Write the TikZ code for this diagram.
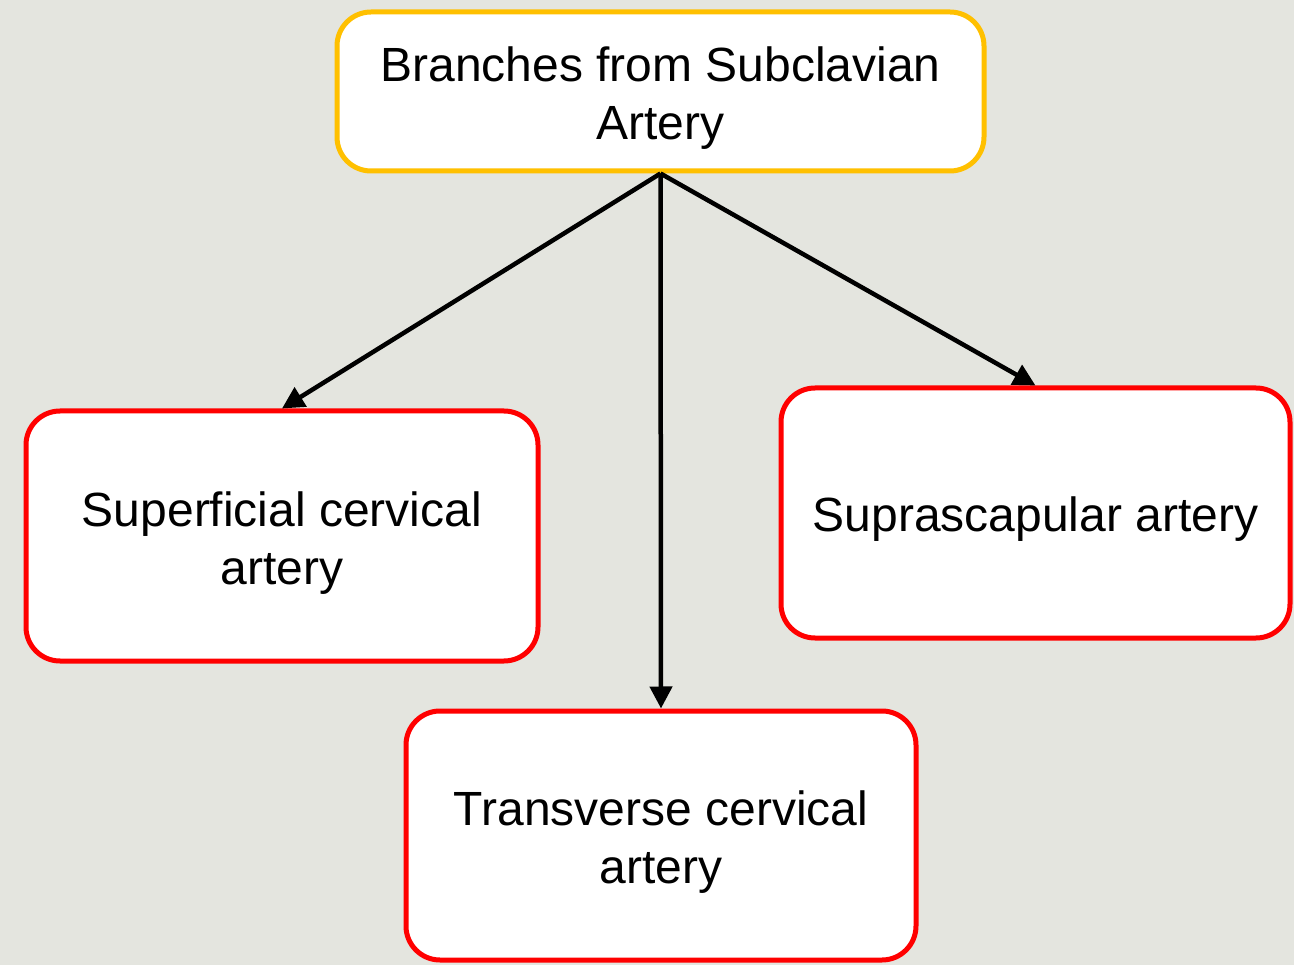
\documentclass[tikz,border=0pt]{standalone}
\usepackage{fontspec}
\setmainfont{Liberation Sans}
\usetikzlibrary{arrows.meta}
\definecolor{bg}{HTML}{E4E5DF}
\definecolor{boxred}{HTML}{FF0000}
\definecolor{boxyellow}{HTML}{FFC000}
\begin{document}
\begin{tikzpicture}[x=1pt,y=-1pt,
  box/.style={draw=boxred, fill=white, line width=5pt, rounded corners=34pt, inner sep=0pt},
  topbox/.style={box, draw=boxyellow},
  txt/.style={align=center, inner sep=0pt, font=\fontsize{48}{58}\selectfont},
  conn/.style={line width=4.5pt, -{Triangle[length=22pt,width=22pt]}}]
\fill[bg] (0,0) rectangle (1294,965);
\useasboundingbox (0,0) rectangle (1294,965);
\node[topbox, minimum width=647pt, minimum height=159pt] (top) at (660.5,91.5) {};
\node[box, minimum width=512pt, minimum height=250pt] (left) at (282,536) {};
\node[box, minimum width=509pt, minimum height=250pt] (right) at (1035.5,513) {};
\node[box, minimum width=510pt, minimum height=249pt] (bottom) at (661,835.5) {};
\node[txt] (topt) at (660.5,98) {Branches from Subclavian\\Artery};
\node[txt] (leftt) at (282,543) {Superficial cervical\\artery};
\node[txt] (rightt) at (1035.5,519) {Suprascapular artery};
\node[txt] (bottomt) at (661,842) {Transverse cervical\\artery};
\draw[conn] (top.south) -- (left.north);
\draw[conn] (top.south) -- (bottom.north);
\draw[conn] (top.south) -- (right.north);
\end{tikzpicture}
\end{document}
